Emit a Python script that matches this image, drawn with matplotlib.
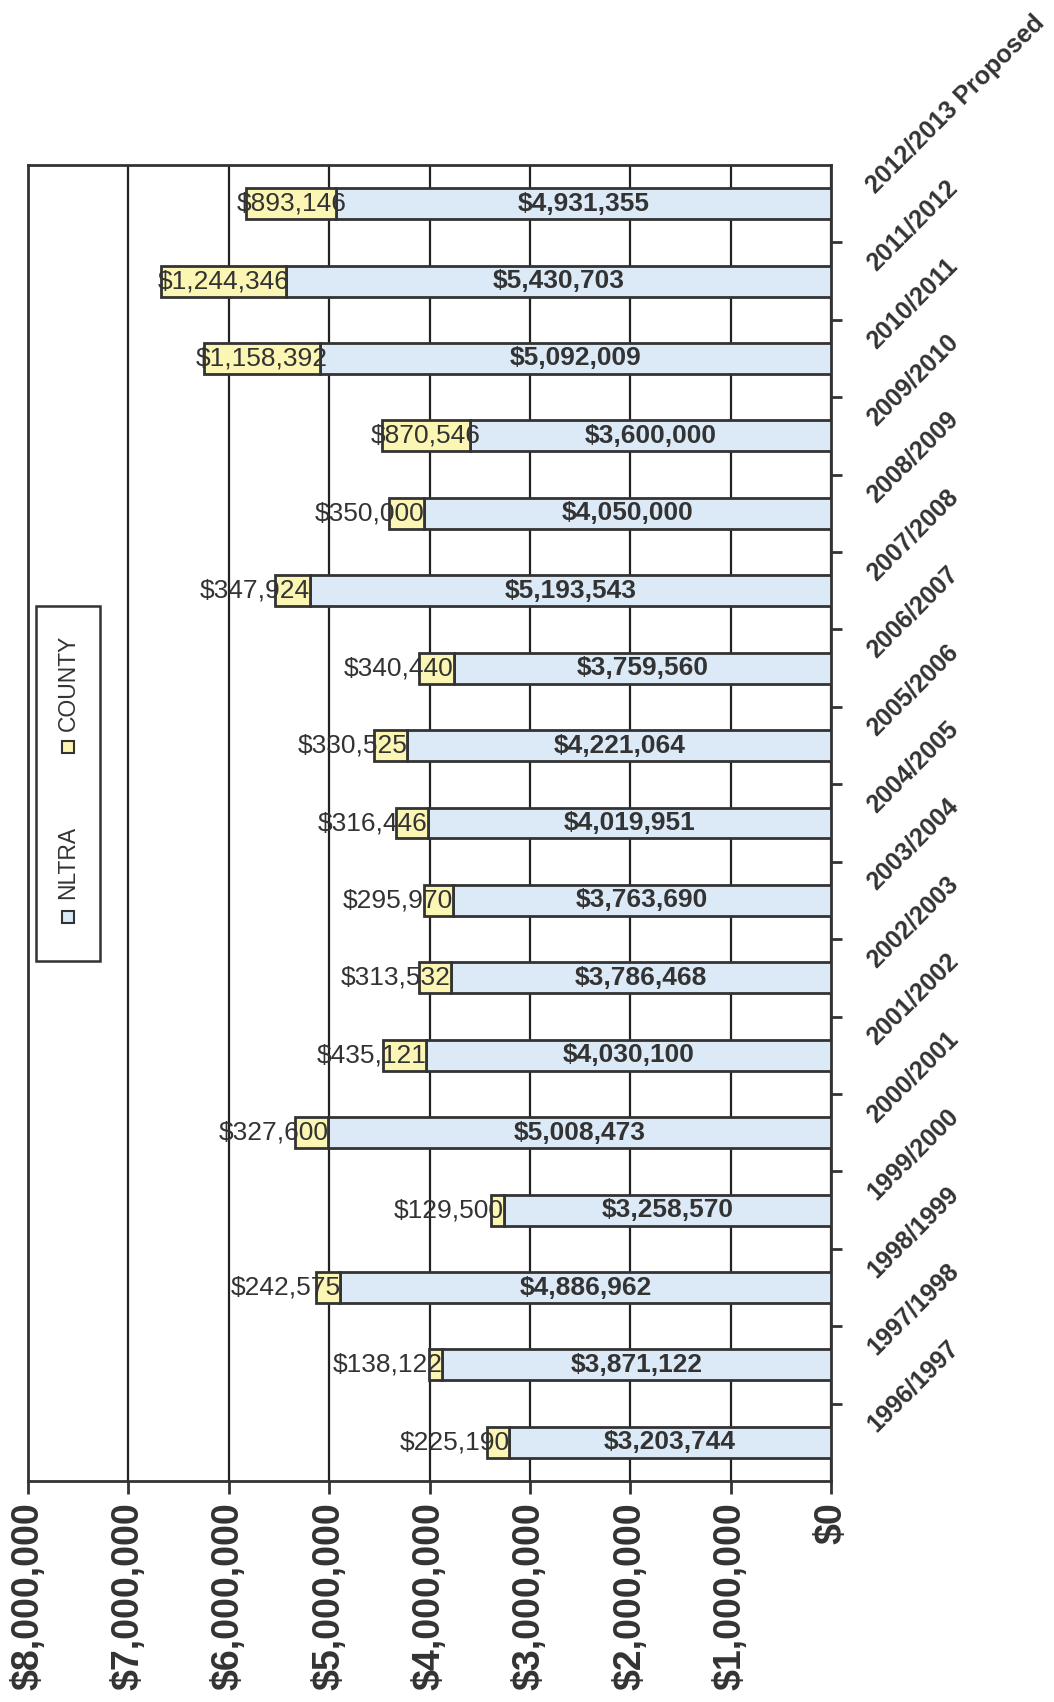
import numpy as np
import matplotlib.pyplot as plt
from matplotlib.patches import Rectangle

plt.rcParams['font.family'] = ['Liberation Sans', 'DejaVu Sans']

years = ['1996/1997', '1997/1998', '1998/1999', '1999/2000', '2000/2001',
         '2001/2002', '2002/2003', '2003/2004', '2004/2005', '2005/2006',
         '2006/2007', '2007/2008', '2008/2009', '2009/2010', '2010/2011',
         '2011/2012', '2012/2013 Proposed']
nltra = [3203744, 3871122, 4886962, 3258570, 5008473, 4030100, 3786468,
         3763690, 4019951, 4221064, 3759560, 5193543, 4050000, 3600000,
         5092009, 5430703, 4931355]
county = [225190, 138122, 242575, 129500, 327600, 435121, 313532, 295970,
          316446, 330525, 340440, 347924, 350000, 870546, 1158392, 1244346,
          893146]
x_ticks = list(range(0, 8000001, 1000000))

blue = '#dceaf7'
yellow = '#fbf6b4'
dark = '#333333'

fig = plt.figure(figsize=(10.54, 17.02), dpi=100)
ax = fig.add_axes([0.0266, 0.1298, 0.7618, 0.7733])

y = np.arange(len(years))
nl = np.array(nltra)
co = np.array(county)

ax.barh(y, nl, height=0.4, color=blue, edgecolor=dark, linewidth=2, zorder=3)
ax.barh(y, co, left=nl, height=0.4, color=yellow, edgecolor=dark,
        linewidth=2, zorder=3)

for i in range(len(years)):
    ax.text(nl[i] / 2, y[i], f'${nl[i]:,}', ha='center', va='center',
            fontsize=19, fontweight='bold', color=dark, zorder=4)
    # narrow county segments: label ends at the NLTRA edge
    if co[i] < 600000:
        ax.text(nl[i], y[i], f'${co[i]:,}', ha='right', va='center',
                fontsize=19, color=dark, zorder=4)
    else:
        ax.text(nl[i] + co[i] / 2, y[i], f'${co[i]:,}', ha='center',
                va='center', fontsize=19, color=dark, zorder=4)

ax.set_xlim(8000000, 0)
ax.set_ylim(-0.5, len(years) - 0.5)

ax.set_xticks(x_ticks)
ax.set_xticklabels([f'${v:,}' for v in x_ticks], rotation=90, fontsize=27,
                   fontweight='bold', color=dark)
ax.tick_params(axis='x', length=9, width=2, color=dark, pad=6)
ax.grid(axis='x', color='#222222', linewidth=1.6, zorder=0)

# category axis on the right, ticks between bars
ax.yaxis.tick_right()
ax.set_yticks(y[:-1] + 0.5)
ax.set_yticklabels([])
ax.tick_params(axis='y', length=8, width=2, color=dark, direction='out')

for sp in ax.spines.values():
    sp.set_color(dark)
    sp.set_linewidth(2)

for i, name in enumerate(years):
    ax.text(1.056, y[i] + 0.12, name, transform=ax.get_yaxis_transform(),
            rotation=45, rotation_mode='anchor', ha='left', va='baseline',
            fontsize=18, fontweight='bold', color=dark, clip_on=False)

# legend box drawn upright with vertical text
W, H = 1054, 1702
fig.patches.append(Rectangle((36 / W, 1 - 961 / H), 64 / W, 355 / H,
                             transform=fig.transFigure, facecolor='white',
                             edgecolor=dark, linewidth=1.8, zorder=5))
entries = [('NLTRA', blue, 917, 862), ('COUNTY', yellow, 747, 683)]
for label, col, sq_y, txt_y in entries:
    fig.patches.append(Rectangle((62 / W, 1 - (sq_y + 6) / H), 12 / W, 12 / H,
                                 transform=fig.transFigure, facecolor=col,
                                 edgecolor=dark, linewidth=1.5, zorder=6))
    fig.text(68 / W, 1 - txt_y / H, label, rotation=90, ha='center',
             va='center', fontsize=16.5, color=dark, zorder=6)

fig.savefig('out.png', dpi=100)
